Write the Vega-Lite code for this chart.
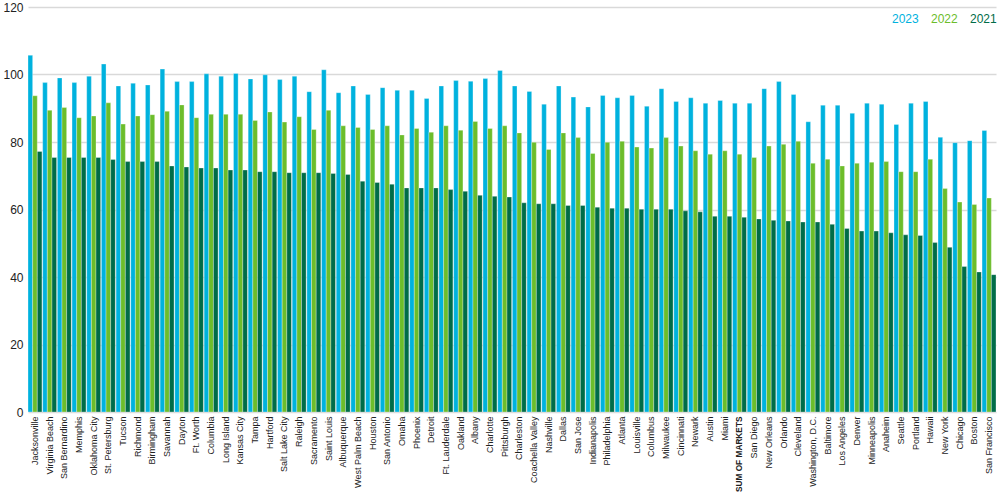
{
  "$schema": "https://vega.github.io/schema/vega-lite/v6.json",
  "autosize": "none",
  "width": 968,
  "height": 405,
  "padding": {"left": 28, "top": 7, "right": 4, "bottom": 84},
  "background": "white",
  "config": {
    "view": {"stroke": null},
    "font": "Liberation Sans"
  },
  "data": {
    "values": [
      {"market": "Jacksonville", "year": "2023", "value": 105.7}, {"market": "Jacksonville", "year": "2022", "value": 93.7}, {"market": "Jacksonville", "year": "2021", "value": 77.2},
      {"market": "Virginia Beach", "year": "2023", "value": 97.6}, {"market": "Virginia Beach", "year": "2022", "value": 89.4}, {"market": "Virginia Beach", "year": "2021", "value": 75.4},
      {"market": "San Bernardino", "year": "2023", "value": 99.0}, {"market": "San Bernardino", "year": "2022", "value": 90.2}, {"market": "San Bernardino", "year": "2021", "value": 75.4},
      {"market": "Memphis", "year": "2023", "value": 97.6}, {"market": "Memphis", "year": "2022", "value": 87.2}, {"market": "Memphis", "year": "2021", "value": 75.4},
      {"market": "Oklahoma City", "year": "2023", "value": 99.5}, {"market": "Oklahoma City", "year": "2022", "value": 87.7}, {"market": "Oklahoma City", "year": "2021", "value": 75.4},
      {"market": "St. Petersburg", "year": "2023", "value": 103.1}, {"market": "St. Petersburg", "year": "2022", "value": 91.6}, {"market": "St. Petersburg", "year": "2021", "value": 74.8},
      {"market": "Tucson", "year": "2023", "value": 96.6}, {"market": "Tucson", "year": "2022", "value": 85.3}, {"market": "Tucson", "year": "2021", "value": 74.2},
      {"market": "Richmond", "year": "2023", "value": 97.4}, {"market": "Richmond", "year": "2022", "value": 87.7}, {"market": "Richmond", "year": "2021", "value": 74.2},
      {"market": "Birmingham", "year": "2023", "value": 96.9}, {"market": "Birmingham", "year": "2022", "value": 88.1}, {"market": "Birmingham", "year": "2021", "value": 74.2},
      {"market": "Savannah", "year": "2023", "value": 101.6}, {"market": "Savannah", "year": "2022", "value": 89.1}, {"market": "Savannah", "year": "2021", "value": 72.9},
      {"market": "Dayton", "year": "2023", "value": 97.9}, {"market": "Dayton", "year": "2022", "value": 91.0}, {"market": "Dayton", "year": "2021", "value": 72.6},
      {"market": "Ft. Worth", "year": "2023", "value": 97.9}, {"market": "Ft. Worth", "year": "2022", "value": 87.2}, {"market": "Ft. Worth", "year": "2021", "value": 72.3},
      {"market": "Columbia", "year": "2023", "value": 100.2}, {"market": "Columbia", "year": "2022", "value": 88.2}, {"market": "Columbia", "year": "2021", "value": 72.3},
      {"market": "Long Island", "year": "2023", "value": 99.5}, {"market": "Long Island", "year": "2022", "value": 88.2}, {"market": "Long Island", "year": "2021", "value": 71.7},
      {"market": "Kansas City", "year": "2023", "value": 100.3}, {"market": "Kansas City", "year": "2022", "value": 88.2}, {"market": "Kansas City", "year": "2021", "value": 71.7},
      {"market": "Tampa", "year": "2023", "value": 98.7}, {"market": "Tampa", "year": "2022", "value": 86.4}, {"market": "Tampa", "year": "2021", "value": 71.2},
      {"market": "Hartford", "year": "2023", "value": 99.9}, {"market": "Hartford", "year": "2022", "value": 88.9}, {"market": "Hartford", "year": "2021", "value": 71.2},
      {"market": "Salt Lake City", "year": "2023", "value": 98.5}, {"market": "Salt Lake City", "year": "2022", "value": 85.9}, {"market": "Salt Lake City", "year": "2021", "value": 70.9},
      {"market": "Raleigh", "year": "2023", "value": 99.5}, {"market": "Raleigh", "year": "2022", "value": 87.5}, {"market": "Raleigh", "year": "2021", "value": 70.9},
      {"market": "Sacramento", "year": "2023", "value": 94.9}, {"market": "Sacramento", "year": "2022", "value": 83.7}, {"market": "Sacramento", "year": "2021", "value": 70.9},
      {"market": "Saint Louis", "year": "2023", "value": 101.4}, {"market": "Saint Louis", "year": "2022", "value": 89.4}, {"market": "Saint Louis", "year": "2021", "value": 70.7},
      {"market": "Albuquerque", "year": "2023", "value": 94.6}, {"market": "Albuquerque", "year": "2022", "value": 84.8}, {"market": "Albuquerque", "year": "2021", "value": 70.4},
      {"market": "West Palm Beach", "year": "2023", "value": 96.6}, {"market": "West Palm Beach", "year": "2022", "value": 84.3}, {"market": "West Palm Beach", "year": "2021", "value": 68.4},
      {"market": "Houston", "year": "2023", "value": 94.1}, {"market": "Houston", "year": "2022", "value": 83.7}, {"market": "Houston", "year": "2021", "value": 68.0},
      {"market": "San Antonio", "year": "2023", "value": 96.1}, {"market": "San Antonio", "year": "2022", "value": 84.8}, {"market": "San Antonio", "year": "2021", "value": 67.5},
      {"market": "Omaha", "year": "2023", "value": 95.3}, {"market": "Omaha", "year": "2022", "value": 82.1}, {"market": "Omaha", "year": "2021", "value": 66.4},
      {"market": "Phoenix", "year": "2023", "value": 95.3}, {"market": "Phoenix", "year": "2022", "value": 84.0}, {"market": "Phoenix", "year": "2021", "value": 66.4},
      {"market": "Detroit", "year": "2023", "value": 92.9}, {"market": "Detroit", "year": "2022", "value": 82.9}, {"market": "Detroit", "year": "2021", "value": 66.4},
      {"market": "Ft. Lauderdale", "year": "2023", "value": 96.6}, {"market": "Ft. Lauderdale", "year": "2022", "value": 84.8}, {"market": "Ft. Lauderdale", "year": "2021", "value": 65.9},
      {"market": "Oakland", "year": "2023", "value": 98.2}, {"market": "Oakland", "year": "2022", "value": 83.5}, {"market": "Oakland", "year": "2021", "value": 65.4},
      {"market": "Albany", "year": "2023", "value": 98.0}, {"market": "Albany", "year": "2022", "value": 86.1}, {"market": "Albany", "year": "2021", "value": 64.2},
      {"market": "Charlotte", "year": "2023", "value": 98.8}, {"market": "Charlotte", "year": "2022", "value": 84.0}, {"market": "Charlotte", "year": "2021", "value": 63.9},
      {"market": "Pittsburgh", "year": "2023", "value": 101.2}, {"market": "Pittsburgh", "year": "2022", "value": 84.8}, {"market": "Pittsburgh", "year": "2021", "value": 63.7},
      {"market": "Charleston", "year": "2023", "value": 96.6}, {"market": "Charleston", "year": "2022", "value": 82.7}, {"market": "Charleston", "year": "2021", "value": 62.0},
      {"market": "Coachella Valley", "year": "2023", "value": 95.0}, {"market": "Coachella Valley", "year": "2022", "value": 79.9}, {"market": "Coachella Valley", "year": "2021", "value": 61.7},
      {"market": "Nashville", "year": "2023", "value": 91.2}, {"market": "Nashville", "year": "2022", "value": 77.8}, {"market": "Nashville", "year": "2021", "value": 61.7},
      {"market": "Dallas", "year": "2023", "value": 96.6}, {"market": "Dallas", "year": "2022", "value": 82.7}, {"market": "Dallas", "year": "2021", "value": 61.2},
      {"market": "San Jose", "year": "2023", "value": 93.3}, {"market": "San Jose", "year": "2022", "value": 81.3}, {"market": "San Jose", "year": "2021", "value": 61.2},
      {"market": "Indianapolis", "year": "2023", "value": 90.4}, {"market": "Indianapolis", "year": "2022", "value": 76.6}, {"market": "Indianapolis", "year": "2021", "value": 60.7},
      {"market": "Philadelphia", "year": "2023", "value": 93.8}, {"market": "Philadelphia", "year": "2022", "value": 79.9}, {"market": "Philadelphia", "year": "2021", "value": 60.4},
      {"market": "Atlanta", "year": "2023", "value": 93.1}, {"market": "Atlanta", "year": "2022", "value": 80.2}, {"market": "Atlanta", "year": "2021", "value": 60.4},
      {"market": "Louisville", "year": "2023", "value": 93.8}, {"market": "Louisville", "year": "2022", "value": 78.5}, {"market": "Louisville", "year": "2021", "value": 60.1},
      {"market": "Columbus", "year": "2023", "value": 90.6}, {"market": "Columbus", "year": "2022", "value": 78.2}, {"market": "Columbus", "year": "2021", "value": 60.1},
      {"market": "Milwaukee", "year": "2023", "value": 95.8}, {"market": "Milwaukee", "year": "2022", "value": 81.3}, {"market": "Milwaukee", "year": "2021", "value": 60.1},
      {"market": "Cincinnati", "year": "2023", "value": 92.0}, {"market": "Cincinnati", "year": "2022", "value": 78.8}, {"market": "Cincinnati", "year": "2021", "value": 59.6},
      {"market": "Newark", "year": "2023", "value": 93.1}, {"market": "Newark", "year": "2022", "value": 77.4}, {"market": "Newark", "year": "2021", "value": 59.3},
      {"market": "Austin", "year": "2023", "value": 91.5}, {"market": "Austin", "year": "2022", "value": 76.4}, {"market": "Austin", "year": "2021", "value": 58.0},
      {"market": "Miami", "year": "2023", "value": 92.3}, {"market": "Miami", "year": "2022", "value": 77.4}, {"market": "Miami", "year": "2021", "value": 58.0},
      {"market": "SUM OF MARKETS", "year": "2023", "value": 91.5}, {"market": "SUM OF MARKETS", "year": "2022", "value": 76.4}, {"market": "SUM OF MARKETS", "year": "2021", "value": 57.7},
      {"market": "San Diego", "year": "2023", "value": 91.5}, {"market": "San Diego", "year": "2022", "value": 75.4}, {"market": "San Diego", "year": "2021", "value": 57.2},
      {"market": "New Orleans", "year": "2023", "value": 95.8}, {"market": "New Orleans", "year": "2022", "value": 78.8}, {"market": "New Orleans", "year": "2021", "value": 56.8},
      {"market": "Orlando", "year": "2023", "value": 97.9}, {"market": "Orlando", "year": "2022", "value": 79.3}, {"market": "Orlando", "year": "2021", "value": 56.6},
      {"market": "Cleveland", "year": "2023", "value": 94.1}, {"market": "Cleveland", "year": "2022", "value": 80.2}, {"market": "Cleveland", "year": "2021", "value": 56.3},
      {"market": "Washington, D.C.", "year": "2023", "value": 86.0}, {"market": "Washington, D.C.", "year": "2022", "value": 73.7}, {"market": "Washington, D.C.", "year": "2021", "value": 56.3},
      {"market": "Baltimore", "year": "2023", "value": 90.9}, {"market": "Baltimore", "year": "2022", "value": 74.9}, {"market": "Baltimore", "year": "2021", "value": 55.6},
      {"market": "Los Angeles", "year": "2023", "value": 90.9}, {"market": "Los Angeles", "year": "2022", "value": 72.9}, {"market": "Los Angeles", "year": "2021", "value": 54.4},
      {"market": "Denver", "year": "2023", "value": 88.5}, {"market": "Denver", "year": "2022", "value": 73.7}, {"market": "Denver", "year": "2021", "value": 53.6},
      {"market": "Minneapolis", "year": "2023", "value": 91.5}, {"market": "Minneapolis", "year": "2022", "value": 74.0}, {"market": "Minneapolis", "year": "2021", "value": 53.6},
      {"market": "Anaheim", "year": "2023", "value": 91.2}, {"market": "Anaheim", "year": "2022", "value": 74.2}, {"market": "Anaheim", "year": "2021", "value": 53.1},
      {"market": "Seattle", "year": "2023", "value": 85.2}, {"market": "Seattle", "year": "2022", "value": 71.2}, {"market": "Seattle", "year": "2021", "value": 52.5},
      {"market": "Portland", "year": "2023", "value": 91.5}, {"market": "Portland", "year": "2022", "value": 71.2}, {"market": "Portland", "year": "2021", "value": 52.3},
      {"market": "Hawaii", "year": "2023", "value": 92.0}, {"market": "Hawaii", "year": "2022", "value": 74.9}, {"market": "Hawaii", "year": "2021", "value": 50.2},
      {"market": "New York", "year": "2023", "value": 81.4}, {"market": "New York", "year": "2022", "value": 66.2}, {"market": "New York", "year": "2021", "value": 48.8},
      {"market": "Chicago", "year": "2023", "value": 79.8}, {"market": "Chicago", "year": "2022", "value": 62.2}, {"market": "Chicago", "year": "2021", "value": 43.1},
      {"market": "Boston", "year": "2023", "value": 80.4}, {"market": "Boston", "year": "2022", "value": 61.5}, {"market": "Boston", "year": "2021", "value": 41.5},
      {"market": "San Francisco", "year": "2023", "value": 83.4}, {"market": "San Francisco", "year": "2022", "value": 63.4}, {"market": "San Francisco", "year": "2021", "value": 40.7}
    ]
  },
  "mark": {"type": "bar", "stroke": "white", "strokeWidth": 0.6, "strokeOpacity": 0.5},
  "encoding": {
    "x": {
      "field": "market",
      "type": "nominal",
      "sort": null,
      "title": null,
      "scale": {"paddingInner": 0.05, "paddingOuter": 0},
      "axis": {
        "labelAngle": -90,
        "labelFontSize": {"condition": {"test": "datum.value === 'SUM OF MARKETS'", "value": 8.3}, "value": 9},
        "labelColor": "#222",
        "labelPadding": 4,
        "labelLimit": 200,
        "labelFontWeight": {"condition": {"test": "datum.value === 'SUM OF MARKETS'", "value": "bold"}, "value": "normal"},
        "ticks": false,
        "domain": false,
        "grid": false
      }
    },
    "xOffset": {"field": "year", "type": "nominal", "sort": ["2023", "2022", "2021"]},
    "y": {
      "field": "value",
      "type": "quantitative",
      "title": null,
      "scale": {"domain": [0, 120], "nice": false},
      "axis": {
        "values": [0, 20, 40, 60, 80, 100, 120],
        "labelFontSize": 12,
        "labelColor": "#222",
        "labelPadding": 5,
        "ticks": false,
        "domain": false,
        "grid": true,
        "gridColor": "#d9d9d9",
        "gridWidth": 1.5
      }
    },
    "color": {
      "field": "year",
      "type": "nominal",
      "sort": ["2023", "2022", "2021"],
      "scale": {"domain": ["2023", "2022", "2021"], "range": ["#00b2de", "#6cbd2b", "#006c48"]},
      "legend": {
        "title": null,
        "orient": "none",
        "legendX": 852,
        "legendY": 6,
        "direction": "horizontal",
        "symbolSize": 0,
        "symbolStrokeWidth": 0,
        "symbolOpacity": 0,
        "labelOffset": 0,
        "labelFontSize": 12,
        "labelFontWeight": "normal",
        "labelColor": {"expr": "datum.value === '2023' ? '#00b2de' : datum.value === '2022' ? '#6cbd2b' : '#006c48'"},
        "columnPadding": 0,
        "encode": {"labels": {"fill": {"condition": [{"test": "datum.value === '2023'", "value": "#00b2de"}, {"test": "datum.value === '2022'", "value": "#6cbd2b"}], "value": "#006c48"}}}
      }
    }
  }
}
